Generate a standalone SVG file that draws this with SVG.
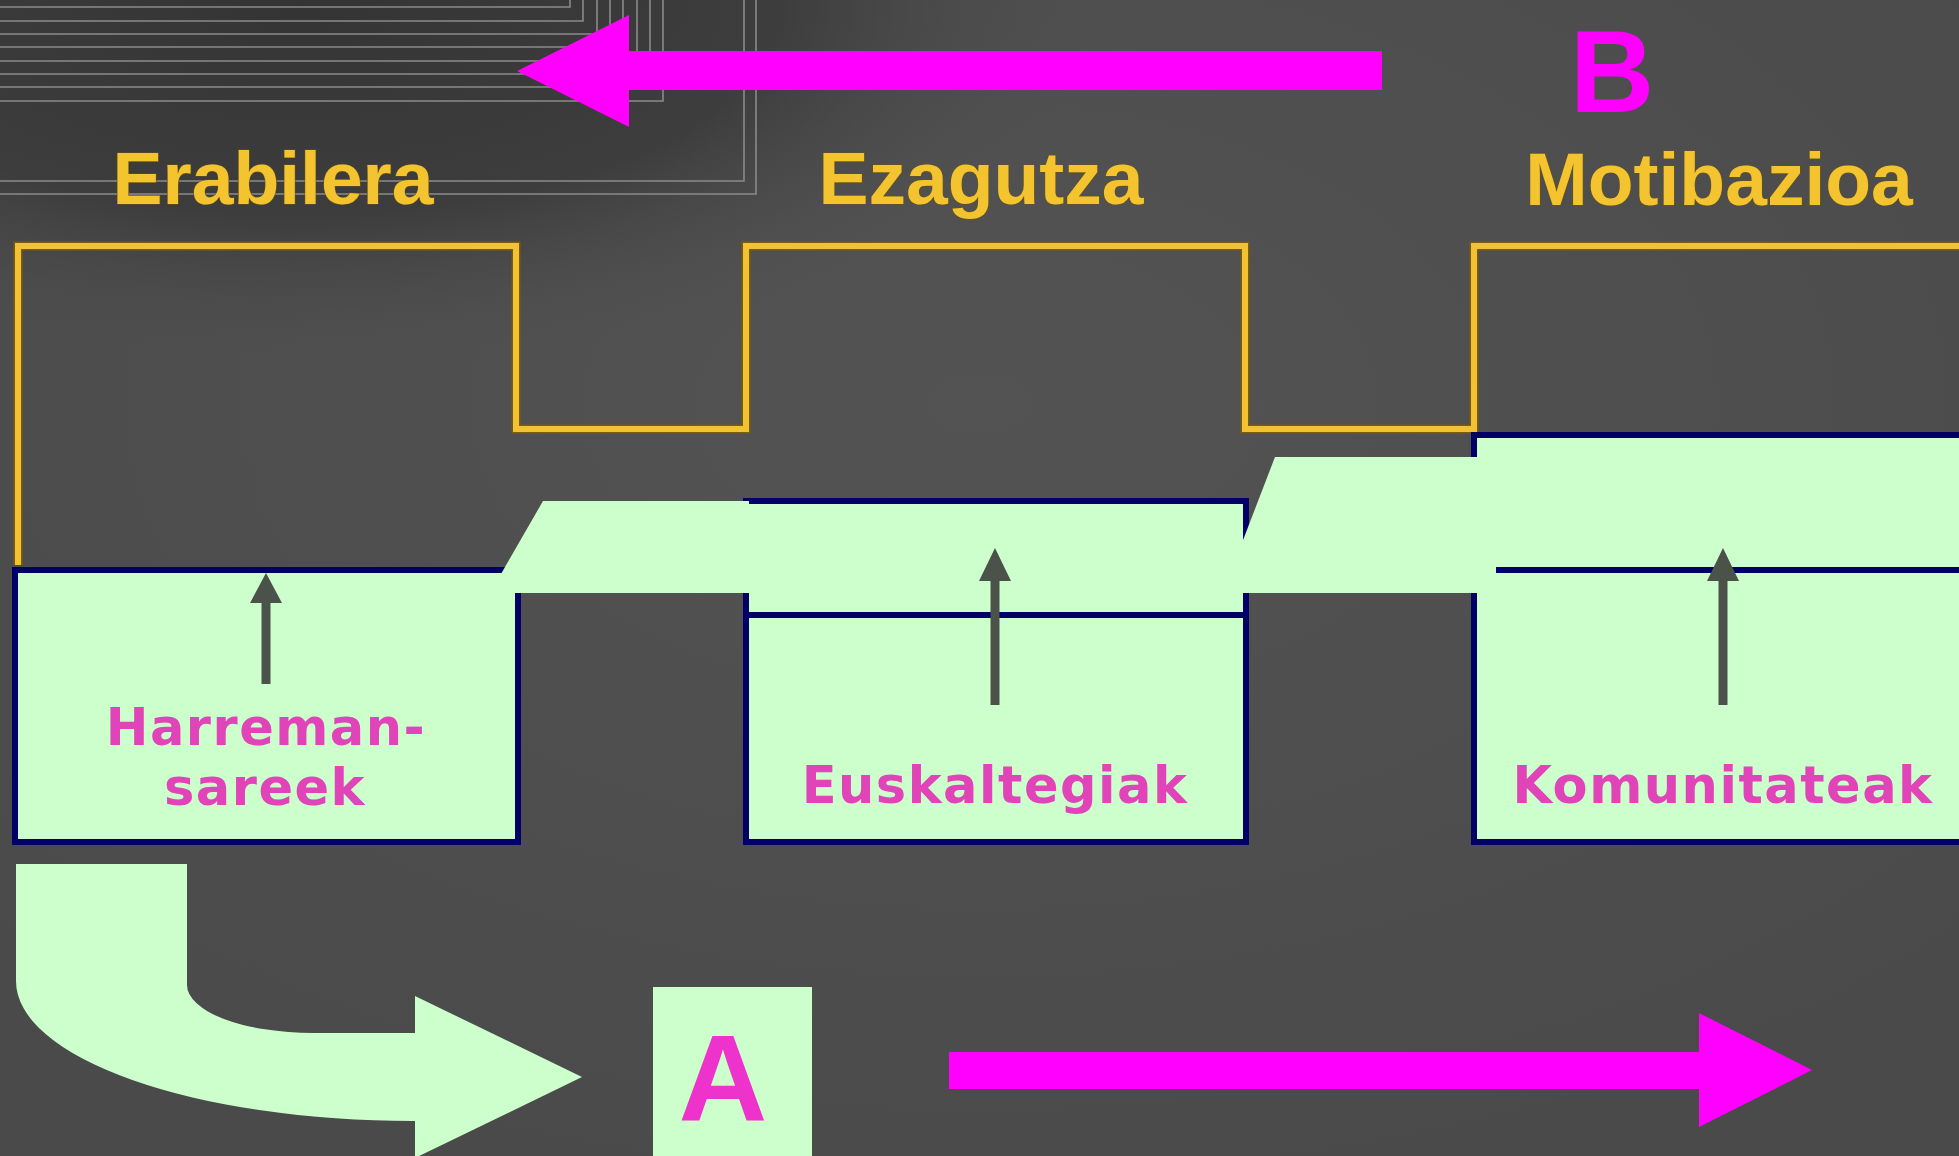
<svg xmlns="http://www.w3.org/2000/svg" width="1959" height="1156" viewBox="0 0 1959 1156">
  <defs>
    <radialGradient id="bgShade" gradientUnits="userSpaceOnUse" cx="300" cy="0" r="800" gradientTransform="translate(0 0) scale(1 0.45)">
      <stop offset="0" stop-color="#343434" stop-opacity="1"/>
      <stop offset="0.6" stop-color="#3a3a3a" stop-opacity="0.85"/>
      <stop offset="1" stop-color="#4e4e4e" stop-opacity="0"/>
    </radialGradient>
    <radialGradient id="bgGlow" cx="0.5" cy="0.35" r="0.7">
      <stop offset="0" stop-color="#535353"/>
      <stop offset="1" stop-color="#4a4a4a"/>
    </radialGradient>
  </defs>
  <style>
    .title { font-family: "Liberation Sans", Arial, sans-serif; font-weight: bold; font-size: 75px; fill: #F4C430; stroke: #6a5418; stroke-width: 1.2px; paint-order: stroke; text-anchor: middle; }
    .label { font-family: "DejaVu Sans", Verdana, sans-serif; font-weight: bold; font-size: 51px; letter-spacing: 1.5px; fill: #E044B8; text-anchor: middle; }
    .letter { font-family: "Liberation Sans", Arial, sans-serif; font-weight: bold; text-anchor: middle; }
    .box { fill: #CCFFCC; stroke: #000066; stroke-width: 6; }
    .inner { stroke: #000066; stroke-width: 6; fill: none; }
    .bridge { fill: #CCFFCC; }
    .up { fill: #4a524a; }
    .shaft { stroke: #4a524a; stroke-width: 9; }
    .magenta { fill: #FF00FF; }
    .frame { stroke: #8a8a8a; stroke-width: 1.6; fill: none; }
    .wave-shadow { fill: none; stroke: #7a5c10; stroke-width: 9; stroke-linejoin: miter; }
    .wave { fill: none; stroke: #F2C232; stroke-width: 6; stroke-linejoin: miter; }
  </style>

  <!-- background -->
  <rect x="0" y="0" width="1959" height="1156" fill="url(#bgGlow)"/>
  <rect x="0" y="0" width="1200" height="400" fill="url(#bgShade)"/>

  <!-- decorative nested frame lines (top-left) -->
  <g id="frame-lines">
    <path class="frame" d="M0 7 H570 V0"/>
    <path class="frame" d="M0 21 H583 V0"/>
    <path class="frame" d="M0 34 H597 V0"/>
    <path class="frame" d="M0 47 H610 V0"/>
    <path class="frame" d="M0 61 H623 V0"/>
    <path class="frame" d="M0 74 H637 V0"/>
    <path class="frame" d="M0 87 H650 V0"/>
    <path class="frame" d="M0 101 H663 V0"/>
    <path class="frame" d="M0 181 H744 V0"/>
    <path class="frame" d="M0 194 H756 V0"/>
  </g>

  <!-- titles -->
  <g id="titles">
    <text class="title" x="273" y="204">Erabilera</text>
    <text class="title" x="981" y="204">Ezagutza</text>
    <text class="title" x="1719" y="205">Motibazioa</text>
  </g>

  <!-- yellow square-wave line -->
  <g id="wave">
    <path class="wave-shadow" d="M18 565 V246 H516 V429 H746 V246 H1245 V429 H1474 V246 H1959"/>
    <path class="wave" d="M18 565 V246 H516 V429 H746 V246 H1245 V429 H1474 V246 H1959"/>
  </g>

  <!-- node: Harreman-sareek -->
  <g id="node-harreman">
    <rect class="box" x="15" y="570" width="503" height="272"/>
    <path class="shaft" d="M266 684 V598"/>
    <polygon class="up" points="266,573 250,603 282,603"/>
    <text class="label" x="266" y="745">Harreman-</text>
    <text class="label" x="265" y="805">sareek</text>
  </g>

  <!-- node: Euskaltegiak -->
  <g id="node-euskaltegiak">
    <rect class="box" x="746" y="501" width="500" height="341"/>
    <path class="inner" d="M746 615 H1246"/>
    <path class="shaft" d="M995 705 V576"/>
    <polygon class="up" points="995,548 979,581 1011,581"/>
    <text class="label" x="995" y="803">Euskaltegiak</text>
  </g>

  <!-- node: Komunitateak -->
  <g id="node-komunitateak">
    <rect class="box" x="1474" y="435" width="500" height="407"/>
    <path class="inner" d="M1496 570 H1959"/>
    <path class="shaft" d="M1723 705 V576"/>
    <polygon class="up" points="1723,548 1707,581 1739,581"/>
    <text class="label" x="1723" y="803">Komunitateak</text>
  </g>

  <!-- node: A -->
  <g id="node-a">
    <rect x="653" y="987" width="159" height="175" fill="#CCFFCC"/>
    <text class="letter" x="723" y="1121" font-size="123" fill="#EE33CC">A</text>
  </g>

  <!-- node: B -->
  <g id="node-b">
    <text class="letter" x="1612" y="112" font-size="117" fill="#FF00FF">B</text>
  </g>

  <!-- connectors -->
  <g id="connectors">
    <polygon class="bridge" points="501,574 543,501 749,501 749,593 501,593"/>
    <polygon class="bridge" points="1240,548 1275,457 1478,457 1478,593 1240,593"/>
    <path class="bridge" d="M16 864 H187 V985 A126 48 0 0 0 313 1033 H415 V996 L582 1077 L415 1158 V1121 H413 A397 140 0 0 1 16 981 Z"/>
    <polygon class="magenta" points="517,71 629,15 629,51 1382,51 1382,90 629,90 629,127"/>
    <polygon class="magenta" points="949,1052 1699,1052 1699,1013 1812,1070 1699,1127 1699,1089 949,1089"/>
  </g>
</svg>
